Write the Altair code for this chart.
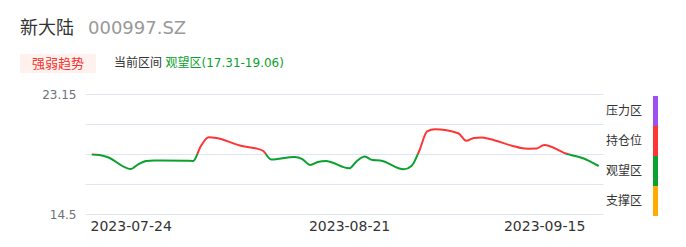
import altair as alt
import pandas as pd

# ---------------- data ----------------
dates = ["2023-07-19","2023-07-20","2023-07-21","2023-07-24","2023-07-25","2023-07-26","2023-07-27",
         "2023-07-28","2023-07-31","2023-08-01","2023-08-02","2023-08-03","2023-08-04","2023-08-07",
         "2023-08-08","2023-08-09","2023-08-10","2023-08-11","2023-08-14","2023-08-15","2023-08-16",
         "2023-08-17","2023-08-18","2023-08-21","2023-08-22","2023-08-23","2023-08-24","2023-08-25",
         "2023-08-28","2023-08-29","2023-08-30","2023-08-31","2023-09-01","2023-09-04","2023-09-05",
         "2023-09-06","2023-09-07","2023-09-08","2023-09-11","2023-09-12","2023-09-13","2023-09-14",
         "2023-09-15","2023-09-18","2023-09-19","2023-09-20","2023-09-21","2023-09-22"]
prices = [18.79,18.75,18.61,17.74,18.10,18.32,18.36,18.36,18.34,18.32,19.40,20.03,19.98,19.44,
          19.33,19.24,19.04,18.43,18.61,18.46,18.03,18.25,18.32,17.79,18.32,18.64,18.39,18.36,
          17.72,17.96,19.06,20.45,20.61,20.32,19.78,19.98,20.01,19.91,19.40,19.26,19.21,19.22,
          19.47,18.82,18.68,18.52,18.25,17.96]

y_min, y_max = 14.5, 23.15
y_grid = [14.5, 16.6625, 18.825, 20.9875, 23.15]
y_labels = ["14.5", "23.15"]
x_label_dates = [(2023, 7, 24), (2023, 8, 21), (2023, 9, 15)]

zone_names = ["压力区", "持仓位", "观望区", "支撑区"]
zone_colors = ["#9d4ff0", "#ff3434", "#0aa12e", "#ffab00"]
split_value = 18.86  # colour switch between 持仓位 (red) and 观望区 (green)

title_name = "新大陆"
title_code = "000997.SZ"
badge_text = "强弱趋势"
current_label = "当前区间"
current_zone = "观望区(17.31-19.06)"

RED = "#ff3434"
GREEN = "#0aa12e"
FONT = "DejaVu Sans, Noto Sans CJK SC, sans-serif"
CJK = "Noto Sans CJK SC, DejaVu Sans, sans-serif"

df = pd.DataFrame({"date": dates, "price": prices})
zones = pd.DataFrame({"zone": zone_names, "color": zone_colors})

vmax, vmin = max(prices), min(prices)
f = (vmax - split_value) / (vmax - vmin)

W, H = 518, 120

x_scale = alt.Scale(
    type="utc",
    domain=[alt.DateTime(year=2023, month=7, date=18, hours=3, minutes=23, utc=True),
            alt.DateTime(year=2023, month=9, date=22, hours=13, minutes=12, utc=True)],
)

label_expr = ("datum.value > 22 ? '%s' : (datum.value < 15 ? '%s' : '')" % (y_labels[1], y_labels[0]))

line = alt.Chart(df).mark_line(
    strokeWidth=2,
    interpolate="monotone",
    stroke=alt.Gradient(
        gradient="linear", x1=0, x2=0, y1=0, y2=1,
        stops=[alt.GradientStop(offset=0, color=RED),
               alt.GradientStop(offset=f, color=RED),
               alt.GradientStop(offset=f, color=GREEN),
               alt.GradientStop(offset=1, color=GREEN)],
    ),
).encode(
    x=alt.X("date:T", scale=x_scale,
            axis=alt.Axis(values=[alt.DateTime(year=a, month=b, date=c, utc=True) for a, b, c in x_label_dates],
                          labelExpr="utcFormat(datum.value, '%Y-%m-%d')",
                          grid=False, domain=False, ticks=False,
                          labelColor="#333333", labelFontSize=14, labelFont=FONT, labelPadding=5,
                          labelAlign="center", labelFlush=False, labelOverlap=False, title=None)),
    y=alt.Y("price:Q", scale=alt.Scale(domain=[y_min, y_max], nice=False, zero=False),
            axis=alt.Axis(values=y_grid, labelExpr=label_expr, grid=True, gridColor="#E0E6F1",
                          gridWidth=1, domain=False, ticks=False, labelColor="#6E7079",
                          labelFontSize=12, labelFont=FONT, labelPadding=9, title=None)),
)

legend_bars = alt.Chart(zones).mark_rect(yOffset=2, y2Offset=2).encode(
    x=alt.value(568), x2=alt.value(573),
    y=alt.Y("zone:N", sort=zone_names, scale=alt.Scale(paddingInner=0, paddingOuter=0), axis=None),
    color=alt.Color("color:N", scale=None),
)
legend_text = alt.Chart(zones).mark_text(
    fontSize=12, font=CJK, color="#333333", align="center", baseline="middle", dy=2
).encode(
    x=alt.value(539),
    y=alt.Y("zone:N", sort=zone_names, scale=alt.Scale(paddingInner=0, paddingOuter=0), axis=None),
    text="zone:N",
)

def header_text(txt, x, y, size, color, align="left", font=CJK):
    return alt.Chart(alt.InlineData(values=[{"t": txt}])).mark_text(
        fontSize=size, font=font, color=color, align=align, baseline="middle"
    ).encode(x=alt.value(x), y=alt.value(y), text="t:N")

badge = alt.Chart(alt.InlineData(values=[{"t": badge_text}])).mark_rect(color="#fff1ee").encode(
    x=alt.value(-65), x2=alt.value(11), y=alt.value(-40), y2=alt.value(-21)
)

headers = [
    header_text(title_name, -65, -65, 18, "#333333"),
    header_text(title_code, 3, -65, 18, "#999999", font=FONT),
    badge,
    header_text(badge_text, -27, -30.5, 13, "#f5332f", align="center"),
    header_text(current_label, 29, -31, 12, "#333333"),
    header_text(current_zone, 80.5, -31, 12, GREEN, font=FONT),
]

chart = alt.layer(line, legend_bars, legend_text, *headers).resolve_scale(
    y="independent"
).properties(
    width=W, height=H,
    padding={"left": 85, "top": 94, "right": 83, "bottom": 33},
    autosize=alt.AutoSizeParams(type="none"),
    background="white",
).configure_view(stroke=None)

chart.save("out.html", embed_options={"renderer": "svg", "actions": False})
